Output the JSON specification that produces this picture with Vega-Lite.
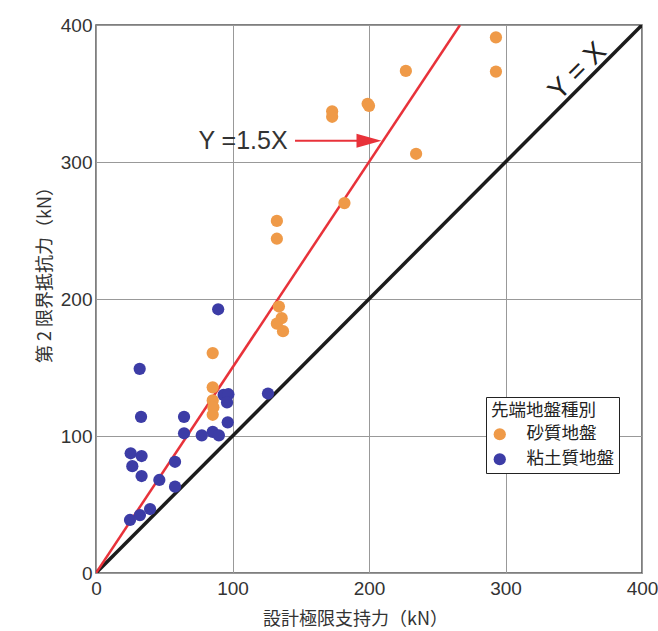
{
  "$schema": "https://vega.github.io/schema/vega-lite/v6.json",
  "width": 546,
  "height": 548,
  "autosize": {"type": "none"},
  "padding": {"left": 96, "top": 25, "right": 16, "bottom": 58},
  "background": "white",
  "config": {
    "view": {"stroke": "#555", "strokeWidth": 1.5},
    "font": "Liberation Sans"
  },
  "datasets": {
    "pts": [
      {"type": "砂質地盤", "x": 293, "y": 391},
      {"type": "砂質地盤", "x": 293, "y": 366},
      {"type": "砂質地盤", "x": 227, "y": 366.5},
      {"type": "砂質地盤", "x": 234.5, "y": 306},
      {"type": "砂質地盤", "x": 199, "y": 342.5},
      {"type": "砂質地盤", "x": 200, "y": 341},
      {"type": "砂質地盤", "x": 173, "y": 337},
      {"type": "砂質地盤", "x": 173, "y": 333},
      {"type": "砂質地盤", "x": 182, "y": 270},
      {"type": "砂質地盤", "x": 132.5, "y": 257},
      {"type": "砂質地盤", "x": 132.5, "y": 244},
      {"type": "砂質地盤", "x": 134, "y": 194.5},
      {"type": "砂質地盤", "x": 136, "y": 186},
      {"type": "砂質地盤", "x": 132.5, "y": 182},
      {"type": "砂質地盤", "x": 137, "y": 176.5},
      {"type": "砂質地盤", "x": 85.5, "y": 160.5},
      {"type": "砂質地盤", "x": 85.5, "y": 135.5},
      {"type": "砂質地盤", "x": 85.5, "y": 126},
      {"type": "砂質地盤", "x": 86, "y": 121},
      {"type": "砂質地盤", "x": 85.5, "y": 115.5},
      {"type": "粘土質地盤", "x": 89.5, "y": 192.5},
      {"type": "粘土質地盤", "x": 32, "y": 149},
      {"type": "粘土質地盤", "x": 33, "y": 114},
      {"type": "粘土質地盤", "x": 64.5, "y": 114},
      {"type": "粘土質地盤", "x": 64.5, "y": 102},
      {"type": "粘土質地盤", "x": 77.5, "y": 100.5},
      {"type": "粘土質地盤", "x": 85.5, "y": 103},
      {"type": "粘土質地盤", "x": 90, "y": 100.5},
      {"type": "粘土質地盤", "x": 93.5, "y": 130},
      {"type": "粘土質地盤", "x": 97, "y": 130.5},
      {"type": "粘土質地盤", "x": 96, "y": 124.5},
      {"type": "粘土質地盤", "x": 96.5, "y": 110},
      {"type": "粘土質地盤", "x": 126, "y": 131},
      {"type": "粘土質地盤", "x": 25.4, "y": 87.4},
      {"type": "粘土質地盤", "x": 33.4, "y": 85.4},
      {"type": "粘土質地盤", "x": 26.6, "y": 78},
      {"type": "粘土質地盤", "x": 33.4, "y": 70.8},
      {"type": "粘土質地盤", "x": 46.4, "y": 67.9},
      {"type": "粘土質地盤", "x": 57.9, "y": 81.2},
      {"type": "粘土質地盤", "x": 57.9, "y": 63},
      {"type": "粘土質地盤", "x": 39.6, "y": 46.7},
      {"type": "粘土質地盤", "x": 32.2, "y": 42.3},
      {"type": "粘土質地盤", "x": 24.9, "y": 38.7}
    ],
    "lines": [
      {"line": "Y=1.5X", "x": 0, "y": 0},
      {"line": "Y=1.5X", "x": 266.67, "y": 400},
      {"line": "Y=X", "x": 0, "y": 0},
      {"line": "Y=X", "x": 400, "y": 400}
    ]
  },
  "layer": [
    {
      "data": {"name": "lines"},
      "transform": [{"filter": "datum.line == 'Y=X'"}],
      "mark": {"type": "line", "color": "#1c1c1c", "strokeWidth": 3.5, "clip": true},
      "encoding": {
        "x": {"field": "x", "type": "quantitative", "scale": {"domain": [0, 400]},
          "axis": {"values": [0, 100, 200, 300, 400], "title": "設計極限支持力（kN）", "grid": true, "gridColor": "#999", "gridWidth": 1, "ticks": false, "domain": false, "labelFontSize": 19, "labelColor": "#333", "labelPadding": 6, "labelFlush": false, "titleFontSize": 18, "titleFont": "Noto Sans CJK JP", "titleFontWeight": "normal", "titleColor": "#333", "titleX": 259, "titleY": 37, "titleBaseline": "top"}},
        "y": {"field": "y", "type": "quantitative", "scale": {"domain": [0, 400]},
          "axis": {"values": [0, 100, 200, 300, 400], "title": "第 2 限界抵抗力（kN）", "grid": true, "gridColor": "#999", "gridWidth": 1, "ticks": false, "domain": false, "labelFontSize": 19, "labelColor": "#333", "labelPadding": 4, "labelFlush": false, "titleFontSize": 18, "titleFont": "Noto Sans CJK JP", "titleFontWeight": "normal", "titleColor": "#333", "titleX": -51, "titleY": 245, "titleBaseline": "middle", "titleAngle": -90}}
      }
    },
    {
      "data": {"name": "lines"},
      "transform": [{"filter": "datum.line == 'Y=1.5X'"}],
      "mark": {"type": "line", "color": "#e8323a", "strokeWidth": 2.5, "clip": true},
      "encoding": {
        "x": {"field": "x", "type": "quantitative"},
        "y": {"field": "y", "type": "quantitative"}
      }
    },
    {
      "data": {"name": "pts"},
      "mark": {"type": "point", "filled": true, "opacity": 1, "size": 150, "shape": "circle"},
      "encoding": {
        "x": {"field": "x", "type": "quantitative"},
        "y": {"field": "y", "type": "quantitative"},
        "color": {"field": "type", "type": "nominal",
          "scale": {"domain": ["砂質地盤", "粘土質地盤"], "range": ["#ef9a48", "#3c3ca6"]},
          "legend": {"title": "先端地盤種別", "orient": "none", "legendX": 390, "legendY": 372, "titleFont": "Noto Sans CJK JP", "titleFontSize": 17.5, "titleFontWeight": "normal", "titleColor": "#222", "labelFont": "Noto Sans CJK JP", "labelFontSize": 17.5, "labelColor": "#222", "symbolSize": 150, "symbolType": "circle", "strokeColor": "#222", "fillColor": "white", "padding": 5, "rowPadding": 6, "titlePadding": 6, "labelOffset": 18, "offset": 0, "labelLimit": 200}}
      }
    },
    {
      "data": {"values": [{"x1": 145.8, "x2": 195, "y": 315.5}]},
      "mark": {"type": "rule", "color": "#e8323a", "strokeWidth": 2},
      "encoding": {
        "x": {"field": "x1", "type": "quantitative"},
        "x2": {"field": "x2"},
        "y": {"field": "y", "type": "quantitative"}
      }
    },
    {
      "data": {"values": [{"x": 200, "y": 315.5}]},
      "mark": {"type": "point", "filled": true, "opacity": 1, "color": "#e8323a", "size": 625, "shape": "M-1,-0.56L1,0L-1,0.56Z"},
      "encoding": {
        "x": {"field": "x", "type": "quantitative"},
        "y": {"field": "y", "type": "quantitative"}
      }
    },
    {
      "data": {"values": [{"x": 107.7, "y": 315.5, "t": "Y =1.5X"}]},
      "mark": {"type": "text", "fontSize": 25, "color": "#333", "font": "Liberation Sans Narrow, Liberation Sans", "baseline": "middle", "align": "center"},
      "encoding": {
        "x": {"field": "x", "type": "quantitative"},
        "y": {"field": "y", "type": "quantitative"},
        "text": {"field": "t"}
      }
    },
    {
      "data": {"values": [{"x": 353, "y": 366, "t": "Y = X"}]},
      "mark": {"type": "text", "fontSize": 28, "color": "#222", "font": "Liberation Sans Narrow, Liberation Sans", "baseline": "middle", "align": "center", "angle": -45},
      "encoding": {
        "x": {"field": "x", "type": "quantitative"},
        "y": {"field": "y", "type": "quantitative"},
        "text": {"field": "t"}
      }
    }
  ]
}
